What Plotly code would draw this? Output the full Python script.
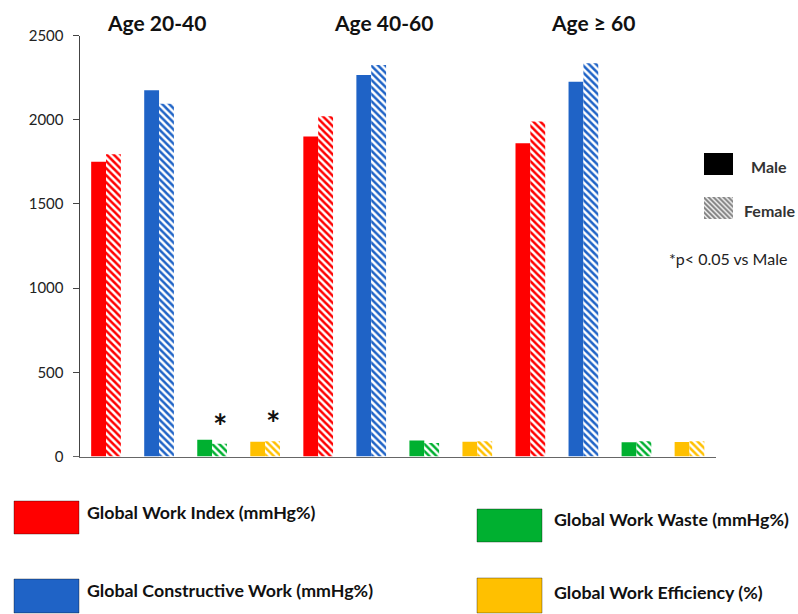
import plotly.graph_objects as go

# ---------------- data ----------------
age_groups = ["Age 20-40", "Age 40-60", "Age \u2265 60"]
metrics = ["Global Work Index (mmHg%)", "Global Constructive Work (mmHg%)",
           "Global Work Waste (mmHg%)", "Global Work Efficiency (%)"]
metric_colors = ["#FF0000", "#1F63C6", "#00B030", "#FFC000"]

# values per age group, in order GWI, GCW, GWW, GWE
male_gwi = [1750, 1900, 1860]
female_gwi = [1795, 2020, 1990]
male_gcw = [2175, 2265, 2225]
female_gcw = [2095, 2325, 2335]
male_gww = [100, 95, 85]
female_gww = [75, 80, 90]
male_gwe = [88, 88, 86]
female_gwe = [90, 90, 90]

# significant (p<0.05 vs male) female bars: (age group index, metric index)
significant = [(0, 2), (0, 3)]

y_ticks = [0, 500, 1000, 1500, 2000, 2500]

# ---------------- build ----------------
W, H = 798, 614
male_vals = []
female_vals = []
colors = []
xs = []
for g in range(3):
    m = [male_gwi[g], male_gcw[g], male_gww[g], male_gwe[g]]
    f = [female_gwi[g], female_gcw[g], female_gww[g], female_gwe[g]]
    for k in range(4):
        xs.append(g * 4 + k)
        male_vals.append(m[k])
        female_vals.append(f[k])
        colors.append(metric_colors[k])

bw = 0.28
fig = go.Figure()
fig.add_trace(go.Bar(x=xs, y=male_vals, width=bw, offset=-bw,
                     marker=dict(color=colors, line=dict(width=0)),
                     name="Male", showlegend=False))
fig.add_trace(go.Bar(x=xs, y=female_vals, width=bw, offset=0,
                     marker=dict(color="white", line=dict(width=0),
                                 pattern=dict(shape="\\", fgcolor=colors, bgcolor="white",
                                              size=5, solidity=0.5, fillmode="replace")),
                     name="Female", showlegend=False))

# Male / Female key as bars on a small auxiliary axis
fig.add_trace(go.Bar(x=[1], y=[2.5], orientation="h", width=1, base=0,
                     marker=dict(color="black", line=dict(width=0)),
                     xaxis="x2", yaxis="y2", showlegend=False, hoverinfo="skip"))
fig.add_trace(go.Bar(x=[1], y=[0.5], orientation="h", width=1, base=0,
                     marker=dict(color="white", line=dict(width=0),
                                 pattern=dict(shape="\\", fgcolor="black", bgcolor="white",
                                              size=3.5, solidity=0.6)),
                     xaxis="x2", yaxis="y2", showlegend=False, hoverinfo="skip"))

def px(x):
    return x / W

def py(y):
    return 1 - y / H

x0p, x1p = 79.5, 716
y_top, y_bot = 35.5, 456.5

fig.update_layout(
    width=W, height=H,
    margin=dict(l=0, r=0, t=0, b=0),
    paper_bgcolor="white", plot_bgcolor="white",
    barmode="overlay",
    font=dict(family="Lato", color="#222"),
    xaxis=dict(domain=[px(x0p), px(x1p)], range=[-0.5, 11.5], showticklabels=False,
               ticks="", showgrid=False, zeroline=False, showline=True,
               linecolor="#666", linewidth=1, automargin=False, fixedrange=True),
    yaxis=dict(domain=[py(y_bot), py(y_top)], range=[0, 2500], tickvals=y_ticks,
               ticktext=[str(v) for v in y_ticks], ticks="outside", ticklen=6,
               tickcolor="#444", showgrid=False, zeroline=False, showline=True,
               linecolor="#444", linewidth=1, tickfont=dict(size=15, color="#222"),
               ticklabelstandoff=6, automargin=False),
    xaxis2=dict(domain=[px(704), px(733)], range=[0, 1], visible=False, anchor="y2"),
    yaxis2=dict(domain=[py(219), py(153)], range=[0, 3], visible=False, anchor="x2"),
)

# x axis small extension to the left of the y axis
fig.add_shape(type="line", xref="paper", yref="paper", x0=px(73), x1=px(x0p),
              y0=py(y_bot), y1=py(y_bot), line=dict(color="#666", width=1))

# group titles
title_x = [156, 383, 593]
for t, xpix in zip(age_groups, title_x):
    fig.add_annotation(text="<b>%s</b>" % t, xref="paper", yref="paper",
                       x=px(xpix), y=py(22), xanchor="center", yanchor="middle",
                       showarrow=False, font=dict(size=21, color="#111", family="Lato"))

# significance asterisks above female bars
for g, k in significant:
    i = g * 4 + k
    fig.add_annotation(text="<b>*</b>", x=xs[i] + bw / 2, y=female_vals[i],
                       xref="x", yref="y", yanchor="bottom", yshift=-4,
                       showarrow=False, font=dict(size=34, color="#111", family="Lato"))

# Male / Female key labels
fig.add_annotation(text="<b>Male</b>", xref="paper", yref="paper", x=px(749), y=py(166),
                   xanchor="left", yanchor="middle", showarrow=False,
                   font=dict(size=16, color="#333"))
fig.add_annotation(text="<b>Female</b>", xref="paper", yref="paper", x=px(742), y=py(211),
                   xanchor="left", yanchor="middle", showarrow=False,
                   font=dict(size=16, color="#333"))
fig.add_annotation(text="*p< 0.05 vs Male", xref="paper", yref="paper", x=px(667), y=py(258),
                   xanchor="left", yanchor="middle", showarrow=False,
                   font=dict(size=16, color="#222"))

# bottom legend: metric colour swatches
legend_pos = [(14, 79, 501, 534, 85, 512),
              (14, 79, 579, 613, 85, 590),
              (477, 542, 509, 542, 552, 519),
              (477, 542, 578, 613, 552, 592)]
for k, (xa, xb, ya, yb, tx, ty) in enumerate(legend_pos):
    fig.add_shape(type="rect", xref="paper", yref="paper",
                  x0=px(xa), x1=px(xb), y0=py(yb), y1=py(ya),
                  fillcolor=metric_colors[k], line=dict(color="rgba(0,0,0,0.35)", width=1))
    fig.add_annotation(text="<b>%s</b>" % metrics[k], xref="paper", yref="paper",
                       x=px(tx), y=py(ty), xanchor="left", yanchor="middle",
                       showarrow=False, font=dict(size=17.8, color="#111"))

fig.write_html("out.html")
